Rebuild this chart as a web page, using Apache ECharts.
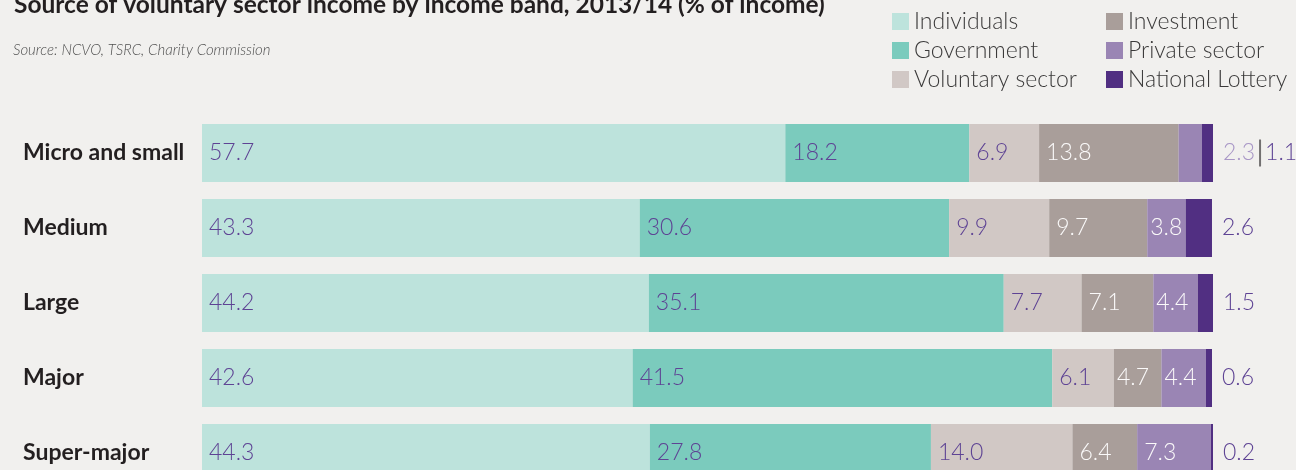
<!DOCTYPE html>
<html>
<head>
<meta charset="utf-8">
<title>Source of voluntary sector income by income band, 2013/14</title>
<script src="https://cdn.jsdelivr.net/npm/echarts@6/dist/echarts.min.js"></script>
<style>
  html, body { margin: 0; padding: 0; background: #f1f0ee; overflow: hidden; }
  /* The last band runs past the bottom edge of the window */
  #chart { width: 1296px; height: 492px; }
</style>
</head>
<body>
<div id="chart"></div>
<script>
// Income bands (top to bottom)
const bands = ['Micro and small', 'Medium', 'Large', 'Major', 'Super-major'];

// Share of income by source, % of income
const individuals     = [57.7, 43.3, 44.2, 42.6, 44.3];
const government      = [18.2, 30.6, 35.1, 41.5, 27.8];
const voluntarySector = [6.9, 9.9, 7.7, 6.1, 14.0];
const investment      = [13.8, 9.7, 7.1, 4.7, 6.4];
const privateSector   = [2.3, 3.8, 4.4, 4.4, 7.3];
const nationalLottery = [1.1, 2.6, 1.5, 0.6, 0.2];

const sourceNames = ['Individuals', 'Government', 'Voluntary sector', 'Investment', 'Private sector', 'National Lottery'];

const PURPLE_TEXT = '#5e4394';
const LIGHT_PURPLE_TEXT = '#a896c6';
const WHITE_TEXT = '#fbfafa';
const FONT = 'Lato, "Open Sans", sans-serif';

const colors = {
  'Individuals': '#bde3dc',
  'Government': '#7bcbbd',
  'Voluntary sector': '#d1c8c5',
  'Investment': '#a99e9a',
  'Private sector': '#9a85b4',
  'National Lottery': '#512f82'
};

// Private-sector shares too small to label inside their segment are
// written beside the bar, ahead of the National Lottery figure.
const OUTSIDE_LIMIT = 3;

function fmt(v) { return v.toFixed(1); }

function insideSeries(name, values, textColor) {
  return {
    name: name,
    type: 'bar',
    stack: 'income',
    barWidth: 58,
    itemStyle: { color: colors[name] },
    data: values.map(function (v) {
      return {
        value: v,
        label: { distance: v < 5 ? 3 : 7 }
      };
    }),
    label: {
      show: true,
      position: 'insideLeft',
      distance: 7,
      color: textColor,
      fontFamily: FONT,
      fontWeight: 300,
      fontSize: 23,
      formatter: function (p) {
        if (name === 'Private sector' && p.value < OUTSIDE_LIMIT) return '';
        return fmt(p.value);
      }
    }
  };
}

const series = [
  insideSeries('Individuals', individuals, PURPLE_TEXT),
  insideSeries('Government', government, PURPLE_TEXT),
  insideSeries('Voluntary sector', voluntarySector, PURPLE_TEXT),
  insideSeries('Investment', investment, WHITE_TEXT),
  insideSeries('Private sector', privateSector, WHITE_TEXT),
  {
    name: 'National Lottery',
    type: 'bar',
    stack: 'income',
    barWidth: 58,
    itemStyle: { color: colors['National Lottery'] },
    data: nationalLottery,
    label: {
      show: true,
      position: 'right',
      distance: 10,
      color: PURPLE_TEXT,
      fontFamily: FONT,
      fontWeight: 300,
      fontSize: 23,
      formatter: function (p) {
        const priv = privateSector[p.dataIndex];
        if (priv < OUTSIDE_LIMIT) {
          return '{p|' + fmt(priv) + '}{g| }{s| }{g| }{l|' + fmt(p.value) + '}';
        }
        return fmt(p.value);
      },
      rich: {
        p: { color: LIGHT_PURPLE_TEXT, fontFamily: FONT, fontWeight: 300, fontSize: 23 },
        l: { color: PURPLE_TEXT, fontFamily: FONT, fontWeight: 300, fontSize: 23 },
        g: { width: 4, fontSize: 4 },
        s: { width: 2, height: 27, backgroundColor: '#727070', fontSize: 4 }
      }
    }
  }
];

const legendText = {
  color: '#3b3a3a',
  fontFamily: FONT,
  fontWeight: 300,
  fontSize: 23,
  lineHeight: 22
};

const legendBase = {
  orient: 'vertical',
  top: 10,
  padding: 0,
  itemGap: 6,
  itemWidth: 17,
  itemHeight: 17,
  icon: 'rect',
  selectedMode: false,
  textStyle: legendText
};

const option = {
  backgroundColor: '#f1f0ee',
  animation: false,
  title: [
    {
      text: 'Source of voluntary sector income by income band, 2013/14 (% of income)',
      left: 14,
      top: -7,
      padding: 0,
      textStyle: {
        color: '#231f20',
        fontFamily: FONT,
        fontWeight: 'bold',
        fontSize: 24.5
      }
    },
    {
      text: 'Source: NCVO, TSRC, Charity Commission',
      left: 13,
      top: 43,
      padding: 0,
      textStyle: {
        color: '#505050',
        fontFamily: FONT,
        fontStyle: 'italic',
        fontWeight: 300,
        fontSize: 15
      }
    }
  ],
  legend: [
    Object.assign({ data: sourceNames.slice(0, 3), left: 892 }, legendBase),
    Object.assign({ data: sourceNames.slice(3), left: 1106 }, legendBase)
  ],
  grid: {
    left: 202,
    top: 115.5,
    width: 1011,
    height: 375,
    containLabel: false
  },
  xAxis: {
    type: 'value',
    min: 0,
    max: 100,
    show: false
  },
  yAxis: {
    type: 'category',
    data: bands,
    inverse: true,
    axisLine: { show: false },
    axisTick: { show: false },
    splitLine: { show: false },
    axisLabel: {
      align: 'left',
      margin: 179,
      color: '#231f20',
      fontFamily: FONT,
      fontWeight: 'bold',
      fontSize: 23
    }
  },
  series: series
};

const chart = echarts.init(document.getElementById('chart'), null, { renderer: 'canvas' });
chart.setOption(option);
</script>
</body>
</html>
